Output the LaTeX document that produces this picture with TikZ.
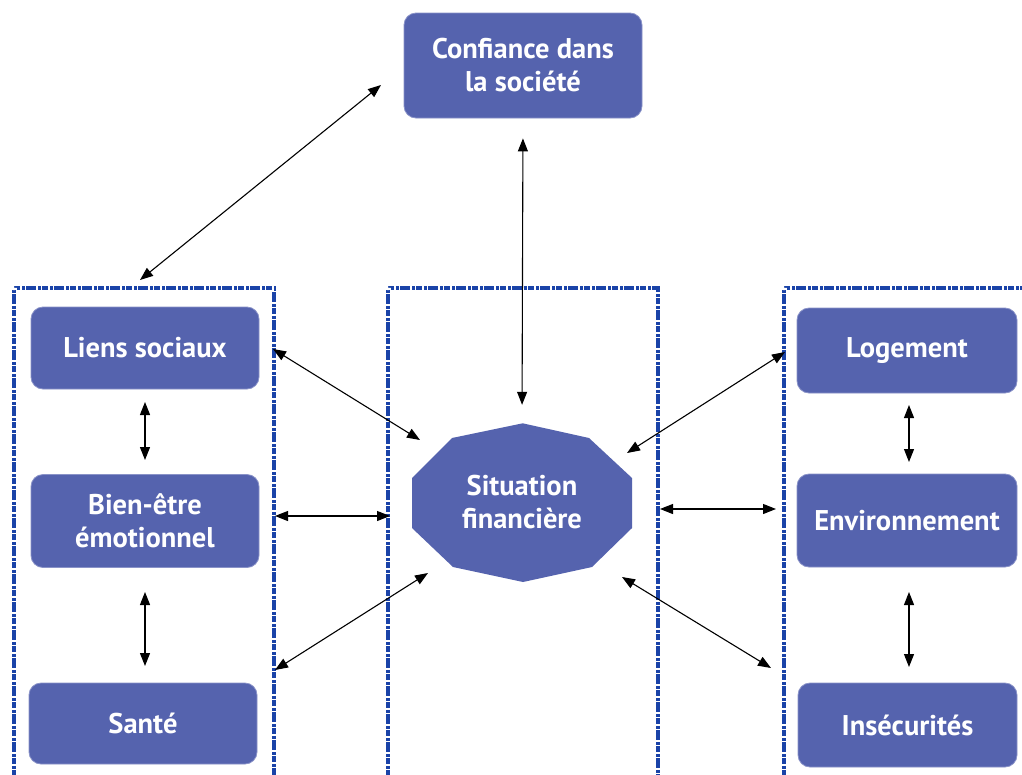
\documentclass[tikz,border=0pt]{standalone}
\usepackage{fontspec}
\setmainfont{PT Sans}
\usetikzlibrary{arrows.meta}
\definecolor{boxblue}{HTML}{5563AE}
\definecolor{boxedge}{HTML}{8A93C8}
\definecolor{dashblue}{HTML}{1A43A8}
\begin{document}
\begin{tikzpicture}[x=1pt,y=-1pt,
  bx/.style={rounded corners=12pt, fill=boxblue, draw=boxedge, line width=0.8pt,
    text=white, font=\bfseries\fontsize{28.5}{33}\selectfont, align=center, inner sep=0pt},
  dashbox/.style={draw=dashblue, line width=4.5pt},
  gapline/.style={draw=white, line width=5.5pt,
    dash pattern=on 0pt off 10pt on 1.5pt off 3pt on 1.5pt off 6pt on 1.5pt off 3pt on 1.5pt off 0pt},
  arr/.style={draw=black, line width=1.1pt,
    {Triangle[length=13pt,width=10pt]}-{Triangle[length=13pt,width=10pt]}}]
\useasboundingbox (0,0) rectangle (1022,774);
\fill[white] (0,0) rectangle (1022,774);

% dashed groups
\draw[dashbox] (14,780) -- (14,288) -- (274,288) -- (274,780);
\draw[dashbox] (388,780) -- (388,288) -- (658,288) -- (658,780);
\draw[dashbox] (784,780) -- (784,288) -- (1030,288);
\draw[gapline] (14,780) -- (14,288) -- (274,288) -- (274,780);
\draw[gapline] (388,780) -- (388,288) -- (658,288) -- (658,780);
\draw[gapline] (784,780) -- (784,288) -- (1030,288);

% boxes
\node[bx, minimum width=238pt, minimum height=105pt] (conf) at (523,65.5) {Confiance dans\\la société};
\node[bx, minimum width=228pt, minimum height=82pt] (liens) at (145,348) {Liens sociaux};
\node[bx, minimum width=228pt, minimum height=93pt] (bien) at (145,521) {Bien-être\\émotionnel};
\node[bx, minimum width=228pt, minimum height=81pt] (sante) at (143,723.5) {Santé};
\node[bx, minimum width=220pt, minimum height=85pt] (loge) at (907,350.5) {Logement};
\node[bx, minimum width=220pt, minimum height=93pt] (envi) at (907,520.5) {Environnement};
\node[bx, minimum width=219pt, minimum height=84pt] (inse) at (907.5,725) {Insécurités};

% central decagon
\fill[boxblue] (522.7,423.3) -- (589,438) -- (632,478) -- (632,528) -- (592,567)
  -- (523,582) -- (453,567) -- (412,528) -- (412,478) -- (452,438) -- cycle;
\node[text=white, font=\bfseries\fontsize{28.5}{33}\selectfont, align=center,
  minimum width=220pt, minimum height=159pt, inner sep=0pt] (sit) at (522,502.5) {Situation\\financière};

% connector end points
\coordinate (c1a) at (381,85);  \coordinate (c1b) at (140,280);
\coordinate (c3a) at (273,349); \coordinate (c3b) at (420,440);
\coordinate (c4a) at (275,516); \coordinate (c4b) at (390,516);
\coordinate (c5a) at (275,670); \coordinate (c5b) at (428,573);
\coordinate (c6a) at (785,352); \coordinate (c6b) at (627,453);
\coordinate (c7a) at (660,509); \coordinate (c7b) at (776,509);
\coordinate (c8a) at (622,577); \coordinate (c8b) at (771,668);
\coordinate (v1a) at (145,402); \coordinate (v1b) at (145,460);
\coordinate (v2a) at (145,592); \coordinate (v2b) at (145,666);
\coordinate (v3a) at (909,405); \coordinate (v3b) at (909,462);
\coordinate (v4a) at (909,592); \coordinate (v4b) at (909,667);

% connectors
\draw[arr] (c1a) -- (c1b);
\draw[arr, shorten <=20pt, shorten >=18pt] (conf.south) -- (sit.north);
\draw[arr] (c3a) -- (c3b);
\draw[arr] (c4a) -- (c4b);
\draw[arr] (c5a) -- (c5b);
\draw[arr] (c6a) -- (c6b);
\draw[arr] (c7a) -- (c7b);
\draw[arr] (c8a) -- (c8b);
\draw[arr] (v1a) -- (v1b);
\draw[arr] (v2a) -- (v2b);
\draw[arr] (v3a) -- (v3b);
\draw[arr] (v4a) -- (v4b);
\end{tikzpicture}
\end{document}
